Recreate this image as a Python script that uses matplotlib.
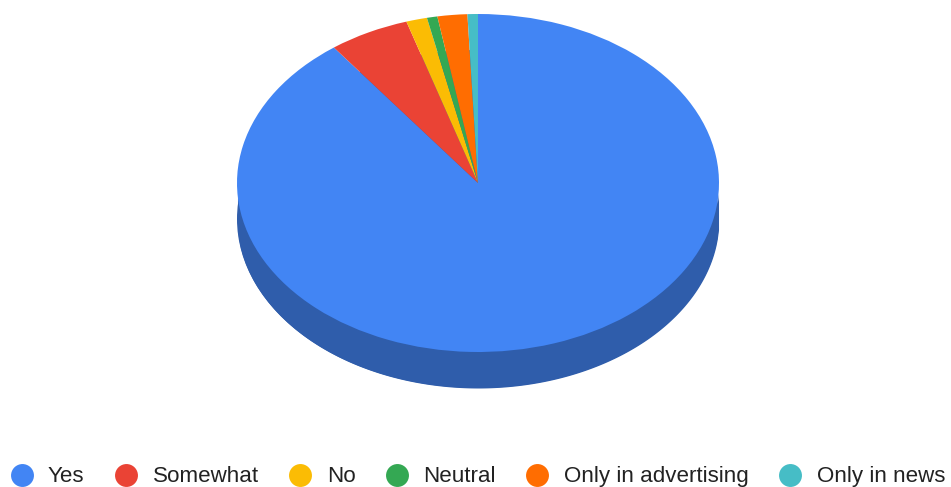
"""
Pie chart with a tilted 3D look and a legend row along the bottom
"""

import numpy as np
import matplotlib
matplotlib.use('Agg')
import matplotlib.pyplot as plt

# Data
labels = ['Yes', 'Somewhat', 'No', 'Neutral', 'Only in advertising', 'Only in news']
values = [89.8, 5.4, 1.4, 0.7, 2.0, 0.7]
colors = ['#4285f4', '#ea4335', '#fbbc04', '#34a853', '#ff6d01', '#46bdc6']
side_color = '#2f5dab'

# Layout, in pixels
WIDTH, HEIGHT = 951, 487
CENTER_X, CENTER_Y = 478, 183
RADIUS_X, RADIUS_Y = 241, 169
DEPTH = 36
LEGEND_Y = 475
TEXT_Y = 474
MARKER_X = [22, 126, 300, 397, 537, 790]
LABEL_X = [48, 153, 327, 423, 564, 817]

plt.rcParams['font.family'] = ['Liberation Sans', 'DejaVu Sans']

fig = plt.figure(figsize=(WIDTH / 100, HEIGHT / 100), dpi=100)
ax = fig.add_axes([0, 0, 1, 1])

depth = DEPTH / RADIUS_Y

# Side of the disc: lower ellipse plus the band joining it to the top face
x = np.linspace(-0.998, 0.998, 400)
rim = -np.sqrt(1 - x ** 2)
ax.fill_between(x, rim, rim - depth, color=side_color, linewidth=0)
ax.pie([1], colors=[side_color], radius=1, center=(0, -depth))

# Top face, clockwise from twelve o'clock
ax.pie(values, colors=colors, startangle=90, counterclock=False, radius=1,
       wedgeprops={'linewidth': 0})

# The wedges are circles in data units, the axes limits squash them to an ellipse
ax.set_aspect('auto')
ax.set_xlim(-CENTER_X / RADIUS_X, (WIDTH - CENTER_X) / RADIUS_X)
ax.set_ylim(-(HEIGHT - CENTER_Y) / RADIUS_Y, CENTER_Y / RADIUS_Y)
ax.axis('off')

# Legend row
leg = fig.add_axes([0, 0, 1, 1])
leg.set_xlim(0, WIDTH)
leg.set_ylim(HEIGHT, 0)
leg.axis('off')
for i, label in enumerate(labels):
    leg.plot(MARKER_X[i], LEGEND_Y, 'o', color=colors[i], markersize=16.5,
             markeredgewidth=0)
    leg.text(LABEL_X[i], TEXT_Y, label, fontsize=16.1, color='#222222',
             ha='left', va='center_baseline')

plt.savefig('out.png', dpi=100)
